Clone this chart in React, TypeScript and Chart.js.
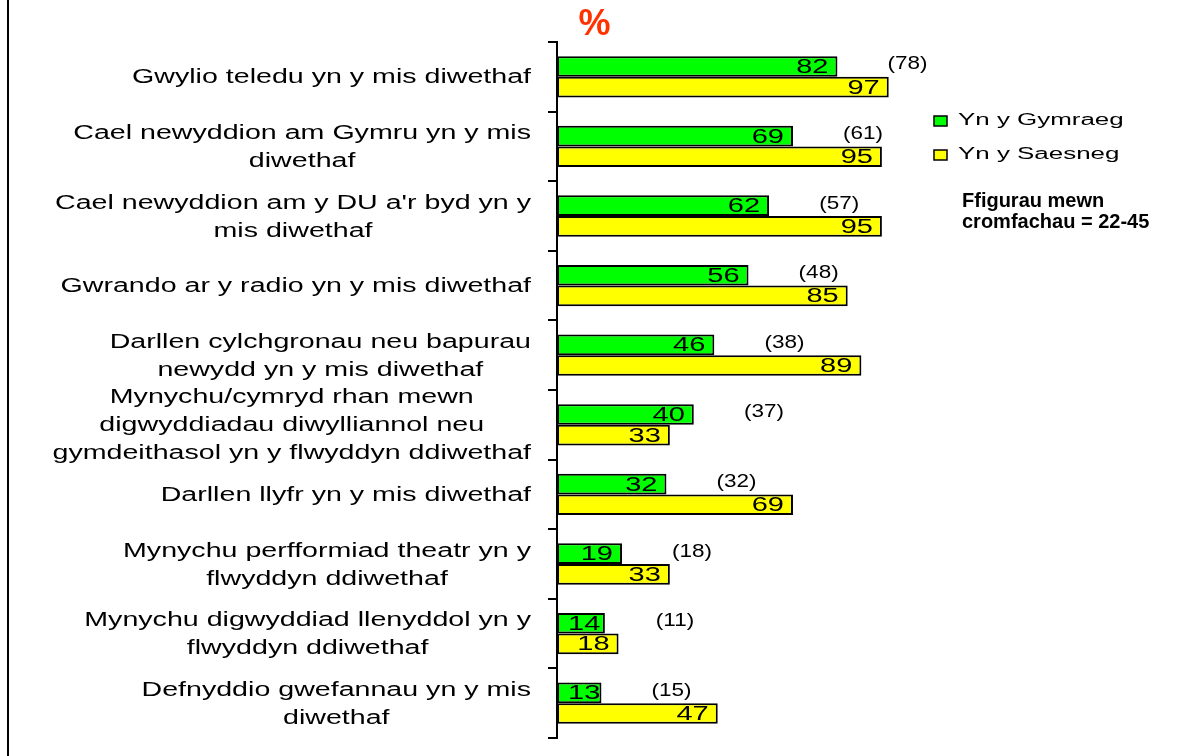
import React, { useEffect, useRef } from 'react';
import { Chart, registerables } from 'chart.js';

Chart.register(...registerables);

const categories: (string | string[])[] = [
  'Gwylio teledu yn y mis diwethaf',
  ['Cael newyddion am Gymru yn y mis', 'diwethaf'],
  ["Cael newyddion am y DU a'r byd yn y", 'mis diwethaf'],
  'Gwrando ar y radio yn y mis diwethaf',
  ['Darllen cylchgronau neu bapurau', 'newydd yn y mis diwethaf'],
  ['Mynychu/cymryd rhan mewn', 'digwyddiadau diwylliannol neu', 'gymdeithasol yn y flwyddyn ddiwethaf'],
  'Darllen llyfr yn y mis diwethaf',
  ['Mynychu perfformiad theatr yn y', 'flwyddyn ddiwethaf'],
  ['Mynychu digwyddiad llenyddol yn y', 'flwyddyn ddiwethaf'],
  ['Defnyddio gwefannau yn y mis', 'diwethaf'],
];

const welshValues = [82, 69, 62, 56, 46, 40, 32, 19, 14, 13];
const englishValues = [97, 95, 95, 85, 89, 33, 69, 33, 18, 47];
const age2245Values = [78, 61, 57, 48, 38, 37, 32, 18, 11, 15];

const seriesNames = ['Yn y Gymraeg', 'Yn y Saesneg'];
const seriesColors = ['#00FF00', '#FFFF00'];
const noteLines = ['Ffigurau mewn', 'cromfachau = 22-45'];
const unitLabel = '%';

const FONT = "'Liberation Sans', Arial, Helvetica, sans-serif";

function drawStretched(
  ctx: CanvasRenderingContext2D,
  text: string,
  x: number,
  y: number,
  sx: number,
  align: CanvasTextAlign
) {
  ctx.save();
  ctx.translate(x, y);
  ctx.scale(sx, 1);
  ctx.textAlign = align;
  ctx.fillText(text, 0, 0);
  ctx.restore();
}

const overlayPlugin = {
  id: 'overlayText',
  afterDraw(chart: any) {
    const ctx: CanvasRenderingContext2D = chart.ctx;
    const xs = chart.scales.x;
    const ys = chart.scales.y;
    const area = chart.chartArea;
    ctx.save();

    // left frame line
    ctx.fillStyle = '#000';
    ctx.fillRect(7, 0, 2, chart.height);

    // category labels
    const LSX = 1.43;
    ctx.font = `20px ${FONT}`;
    ctx.textBaseline = 'middle';
    ctx.fillStyle = '#000';
    const labelRight = area.left - 26;
    categories.forEach((c, i) => {
      const lines = Array.isArray(c) ? c : [c];
      const maxW = Math.max(...lines.map((l) => ctx.measureText(l).width * LSX));
      const cx = labelRight - maxW / 2;
      const yc = ys.getPixelForValue(i) + 1;
      const lh = 28;
      lines.forEach((l, j) => {
        const y = yc + (j - (lines.length - 1) / 2) * lh;
        drawStretched(ctx, l, cx, y, LSX, 'center');
      });
    });

    // value labels inside bars
    const VSX = 1.45;
    ctx.font = `20px ${FONT}`;
    [0, 1].forEach((di) => {
      const meta = chart.getDatasetMeta(di);
      meta.data.forEach((bar: any, i: number) => {
        const v = chart.data.datasets[di].data[i];
        const txt = String(v);
        const w = ctx.measureText(txt).width * VSX;
        const p = bar.getProps(['x', 'y', 'base'], true);
        const right = Math.max(p.x - 9, p.base + 11 + w);
        drawStretched(ctx, txt, right, p.y + 1, VSX, 'right');
      });
    });

    // bracketed values (22-45)
    ctx.font = `18px ${FONT}`;
    const meta0 = chart.getDatasetMeta(0);
    meta0.data.forEach((bar: any, i: number) => {
      const p = bar.getProps(['y'], true);
      const cx = xs.getPixelForValue(welshValues[i] + 20.5);
      drawStretched(ctx, `(${age2245Values[i]})`, cx, p.y - 2, 1.25, 'center');
    });

    // unit label
    ctx.font = `bold 36px ${FONT}`;
    ctx.fillStyle = '#FF3300';
    ctx.textAlign = 'center';
    ctx.fillText(unitLabel, 594.5, 25);

    // legend
    const legendY = [121, 155];
    seriesNames.forEach((name, i) => {
      ctx.fillStyle = seriesColors[i];
      ctx.fillRect(934, legendY[i] - 5, 13, 10);
      ctx.strokeStyle = '#000';
      ctx.lineWidth = 1.5;
      ctx.strokeRect(934, legendY[i] - 5, 13, 10);
      ctx.fillStyle = '#000';
      ctx.font = `16px ${FONT}`;
      ctx.textBaseline = 'middle';
      drawStretched(ctx, name, 958, legendY[i], 1.62, 'left');
    });

    // note
    ctx.font = `bold 20px ${FONT}`;
    ctx.textBaseline = 'alphabetic';
    ctx.textAlign = 'left';
    ctx.fillStyle = '#000';
    ctx.fillText(noteLines[0], 962, 207);
    ctx.fillText(noteLines[1], 962, 228);

    ctx.restore();
  },
};

export default function App() {
  const canvasRef = useRef<HTMLCanvasElement | null>(null);

  useEffect(() => {
    document.body.style.margin = '0';
    const canvas = canvasRef.current;
    if (!canvas) return;
    const chart = new Chart(canvas, {
      type: 'bar',
      data: {
        labels: categories as any,
        datasets: [
          {
            label: seriesNames[0],
            data: welshValues,
            backgroundColor: seriesColors[0],
            borderColor: '#000',
            borderWidth: 2,
            borderSkipped: false,
            categoryPercentage: 0.593,
            barPercentage: 1,
          },
          {
            label: seriesNames[1],
            data: englishValues,
            backgroundColor: seriesColors[1],
            borderColor: '#000',
            borderWidth: 2,
            borderSkipped: false,
            categoryPercentage: 0.593,
            barPercentage: 1,
          },
        ],
      },
      options: {
        indexAxis: 'y',
        responsive: false,
        animation: false,
        devicePixelRatio: 1,
        layout: { padding: { left: 0, right: 278, top: 42, bottom: 18 } },
        plugins: {
          legend: { display: false },
          tooltip: { enabled: false },
          title: { display: false },
        },
        scales: {
          x: { display: false, min: 0, max: 100 },
          y: {
            offset: true,
            grid: {
              display: true,
              drawOnChartArea: false,
              drawTicks: true,
              tickLength: 9,
              color: '#000',
              lineWidth: 2,
              offset: true,
            },
            border: { display: true, color: '#000', width: 2 },
            ticks: { display: false },
            afterFit: (s: any) => {
              s.width = 557;
            },
          },
        },
      },
      plugins: [overlayPlugin],
    });
    return () => chart.destroy();
  }, []);

  return (
    <div style={{ width: 1177, height: 756, background: '#fff' }}>
      <canvas ref={canvasRef} width={1177} height={756} style={{ display: 'block' }} />
    </div>
  );
}
